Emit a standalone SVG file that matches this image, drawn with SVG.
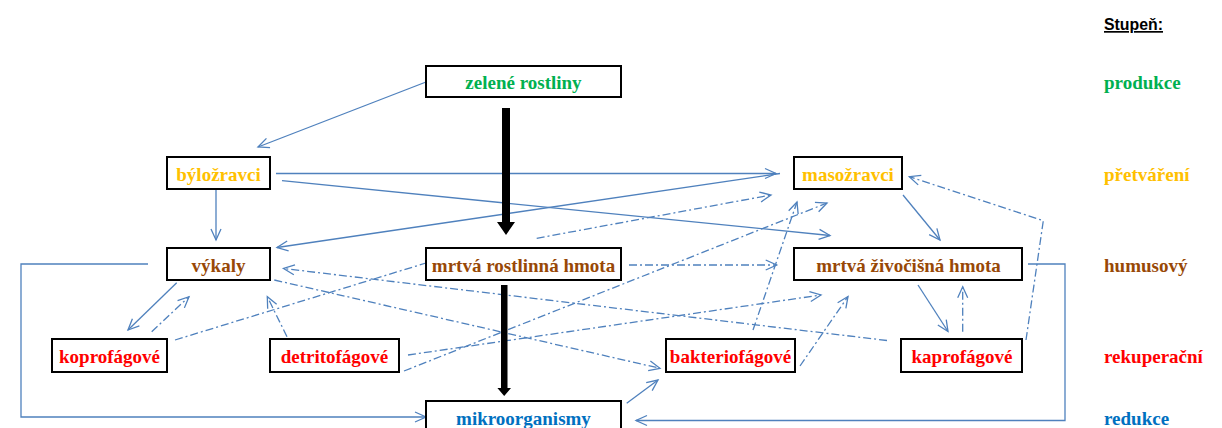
<svg xmlns="http://www.w3.org/2000/svg" width="1222" height="428" viewBox="0 0 1222 428">
<style>
.c{fill:none;stroke:#4F81BD;stroke-width:1.3}
.d{stroke-dasharray:8 3 2 3}
.box{fill:#fff;stroke:#000;stroke-width:2}
.t{font-family:"Liberation Serif","Times New Roman",serif;font-weight:bold;font-size:19px;text-anchor:middle}
.l{font-family:"Liberation Serif","Times New Roman",serif;font-weight:bold;font-size:19px}
.g{fill:#00B050}.o{fill:#FFC000}.b{fill:#984806}.r{fill:#FF0000}.u{fill:#0070C0}
</style>
<defs>
<marker id="ah" markerUnits="userSpaceOnUse" markerWidth="14" markerHeight="12" refX="12" refY="6" orient="auto" overflow="visible">
<path d="M1,1 L12,6 L1,11" fill="none" stroke="#4F81BD" stroke-width="1.3" stroke-dasharray="none"/>
</marker>
</defs>
<g id="connectors">
<path class="c" d="M426,82 L258,147" marker-end="url(#ah)"/>
<path class="c" d="M276,173.5 L776,173.5" marker-end="url(#ah)"/>
<path class="c" d="M282,180.7 L830,235.5" marker-end="url(#ah)"/>
<path class="c" d="M216,190 L216,240" marker-end="url(#ah)"/>
<path class="c" d="M780,173.5 L277,247.5" marker-end="url(#ah)"/>
<path class="c" d="M903,195 L940,240" marker-end="url(#ah)"/>
<path class="c" d="M918,285 L948,331.5" marker-end="url(#ah)"/>
<path class="c" d="M176.7,282.7 L128,330" marker-end="url(#ah)"/>
<path class="c" d="M148,264 L21,264 L21,417 L426,417" marker-end="url(#ah)"/>
<path class="c" d="M1028,264 L1065,264 L1065,420.5 L636,420.5" marker-end="url(#ah)"/>
<path class="c" d="M626.7,403.3 L658,380" marker-end="url(#ah)"/>
<path class="c d" d="M151.7,331.7 L189,296.7" marker-end="url(#ah)"/>
<path class="c d" d="M287,336.7 L267.3,296.7" marker-end="url(#ah)"/>
<path class="c d" d="M175,340 L426,263"/>
<path class="c d" d="M536.7,238.3 L771,195" marker-end="url(#ah)"/>
<path class="c d" d="M629,265 L776.7,265" marker-end="url(#ah)"/>
<path class="c d" d="M887,340.5 L283.5,268.5" marker-end="url(#ah)"/>
<path class="c d" d="M274.3,280 L660,368.3" marker-end="url(#ah)"/>
<path class="c d" d="M408,355 L821,295" marker-end="url(#ah)"/>
<path class="c d" d="M404,371 L827,203" marker-end="url(#ah)"/>
<path class="c d" d="M753,330 L797,202" marker-end="url(#ah)"/>
<path class="c d" d="M800,366 L848,296.5" marker-end="url(#ah)"/>
<path class="c d" d="M1026,340 L1043.3,220.7 L909.3,176.7" marker-end="url(#ah)"/>
<path class="c d" d="M962.7,331.7 L962.7,286.7" marker-end="url(#ah)"/>
<polygon fill="#000" points="502,108 510,108 510,222 515,222 506,235 497,222 502,222"/>
<polygon fill="#000" points="501,285 507.5,285 507.5,388 511,388 504.2,396 497.4,388 501,388"/>
</g>
<g id="zelene-rostliny"><rect class="box" x="426" y="66" width="195" height="31"/><text class="t g" x="523.5" y="89">zelené rostliny</text></g>
<g id="bylozravci"><rect class="box" x="167" y="157" width="103" height="32"/><text class="t o" x="218.5" y="180.5">býložravci</text></g>
<g id="masozravci"><rect class="box" x="794" y="157" width="108" height="32"/><text class="t o" x="848" y="180.5">masožravci</text></g>
<g id="vykaly"><rect class="box" x="167" y="248" width="103" height="32"/><text class="t b" x="218.5" y="271.5">výkaly</text></g>
<g id="mrtva-rostlinna-hmota"><rect class="box" x="426" y="248" width="195" height="32"/><text class="t b" x="523.5" y="271.5">mrtvá rostlinná hmota</text></g>
<g id="mrtva-zivocisna-hmota"><rect class="box" x="794" y="248" width="228" height="32"/><text class="t b" x="908.5" y="271.5">mrtvá živočišná hmota</text></g>
<g id="koprofagove"><rect class="box" x="52" y="339" width="115" height="33"/><text class="t r" x="109.5" y="363">koprofágové</text></g>
<g id="detritofagove"><rect class="box" x="270" y="339" width="129" height="33"/><text class="t r" x="334.5" y="363">detritofágové</text></g>
<g id="bakteriofagove"><rect class="box" x="666" y="339" width="129" height="33"/><text class="t r" x="730.5" y="363">bakteriofágové</text></g>
<g id="kaprofagove"><rect class="box" x="901" y="339" width="121" height="33"/><text class="t r" x="962" y="363">kaprofágové</text></g>
<g id="mikroorganismy"><rect class="box" x="426" y="401" width="195" height="33"/><text class="t u" x="523.5" y="424.5">mikroorganismy</text></g>
<g id="legend">
<text x="1104" y="30" font-family="Liberation Sans, Arial, sans-serif" font-weight="bold" font-size="17" textLength="59" lengthAdjust="spacingAndGlyphs" text-decoration="underline" fill="#000">Stupeň:</text>
<text class="l g" x="1104" y="89">produkce</text>
<text class="l o" x="1104" y="180.5">přetváření</text>
<text class="l b" x="1104" y="272">humusový</text>
<text class="l r" x="1104" y="363">rekuperační</text>
<text class="l u" x="1104" y="424.5">redukce</text>
</g>
</svg>
